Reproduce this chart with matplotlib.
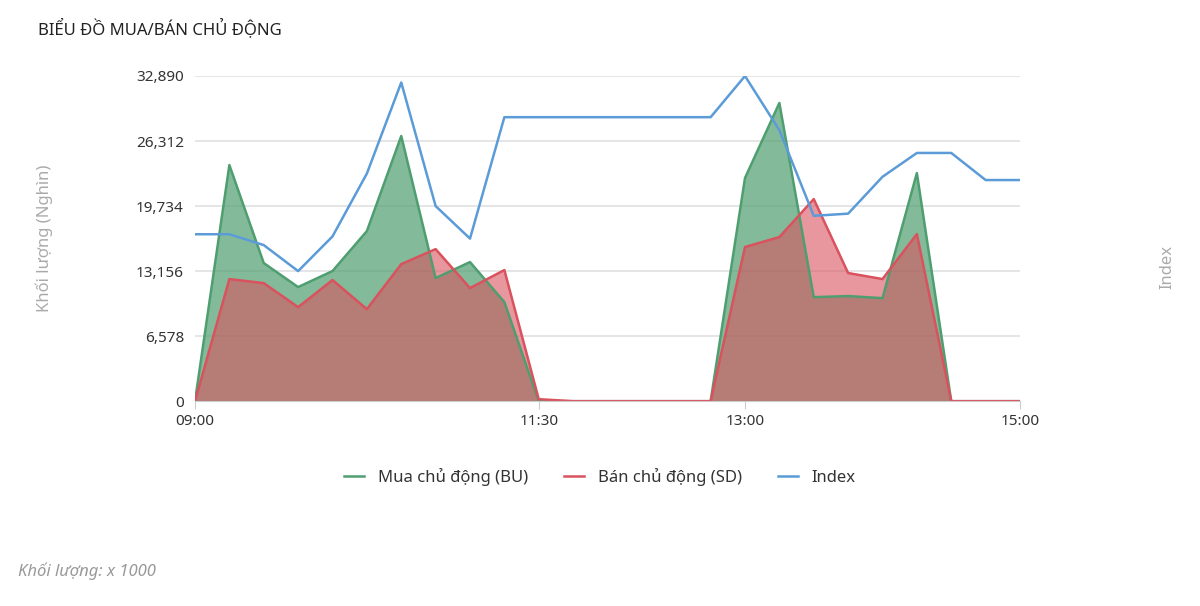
import matplotlib.pyplot as plt
from matplotlib.ticker import FixedLocator
from matplotlib.lines import Line2D

plt.rcParams['font.family'] = ['Noto Sans', 'DejaVu Sans']

# phút tính từ 09:00, mỗi điểm cách 15 phút
minutes = [15 * i for i in range(25)]
bu = [0, 23880, 13970, 11540, 13160, 17200, 26820, 12450, 14070, 10020, 0,
      0, 0, 0, 0, 0, 22570, 30160, 10520, 10630, 10420, 23070, 0, 0, 0]
sd = [0, 12350, 11940, 9510, 12250, 9310, 13860, 15380, 11440, 13260, 200,
      0, 0, 0, 0, 0, 15590, 16600, 20440, 12960, 12350, 16900, 0, 0, 0]
index = [1285.4, 1285.4, 1284.4, 1282.0, 1285.2, 1291.0, 1299.4, 1288.0, 1285.0,
         1296.2, 1296.2, 1296.2, 1296.2, 1296.2, 1296.2, 1296.2, 1300.0, 1295.0,
         1287.1, 1287.3, 1290.7, 1292.9, 1292.9, 1290.4, 1290.4]
yticks = [0, 6578, 13156, 19734, 26312, 32890]
xtick_pos = [0, 150, 240, 360]
xtick_lab = ["09:00", "11:30", "13:00", "15:00"]

green, red, blue = "#4e9e70", "#d9525e", "#5b9bd8"

fig = plt.figure(figsize=(12, 6.06), dpi=100)
ax = fig.add_axes([0.1625, 0.338, 0.6875, 0.5366])

ax.fill_between(minutes, bu, color="#4e9e70", alpha=0.7, lw=0)
ax.plot(minutes, bu, color=green, lw=1.8)
ax.fill_between(minutes, sd, color="#d9525e", alpha=0.6, lw=0)
ax.plot(minutes, sd, color=red, lw=1.8)

ax.set_xlim(0, 360)
ax.set_ylim(0, 32890)
ax.yaxis.set_major_locator(FixedLocator(yticks))
ax.set_yticklabels([f"{v:,}" for v in yticks])
ax.set_xticks(xtick_pos)
ax.set_xticklabels(xtick_lab)
ax.grid(axis="y", color="#e0e0e0", lw=1.2)
ax.set_axisbelow(True)
for s in ax.spines.values():
    s.set_visible(False)
ax.spines["bottom"].set_visible(True)
ax.spines["bottom"].set_color("#cccccc")
ax.tick_params(axis="y", length=0, labelsize=11, colors="#333333", pad=8)
ax.tick_params(axis="x", length=6, color="#cccccc", labelsize=11, labelcolor="#333333")
ax.set_ylabel("Khối lượng (Nghìn)", color="#aaaaaa", fontsize=12, labelpad=60)

ax2 = ax.twinx()
ax2.plot(minutes, index, color=blue, lw=1.8)
ax2.set_ylim(1270, 1300)
ax2.set_yticks([])
for s in ax2.spines.values():
    s.set_visible(False)
fig.text(0.973, 0.56, "Index", rotation=90, color="#aaaaaa", fontsize=12, ha="center", va="center")

handles = [Line2D([], [], color=green, lw=1.8), Line2D([], [], color=red, lw=1.8),
           Line2D([], [], color=blue, lw=1.8)]
fig.legend(handles, ["Mua chủ động (BU)", "Bán chủ động (SD)", "Index"],
           loc="center", bbox_to_anchor=(0.5, 0.213), ncol=3, frameon=False,
           fontsize=12, handlelength=1.2, columnspacing=2.2, labelcolor="#333333")

fig.text(0.032, 0.953, "BIỂU ĐỒ MUA/BÁN CHỦ ĐỘNG", fontsize=12, color="#222222", va="center")
fig.text(0.015, 0.058, "Khối lượng: x 1000", fontsize=12, color="#999999", style="italic", va="center")

fig.savefig("out.png", dpi=100)
